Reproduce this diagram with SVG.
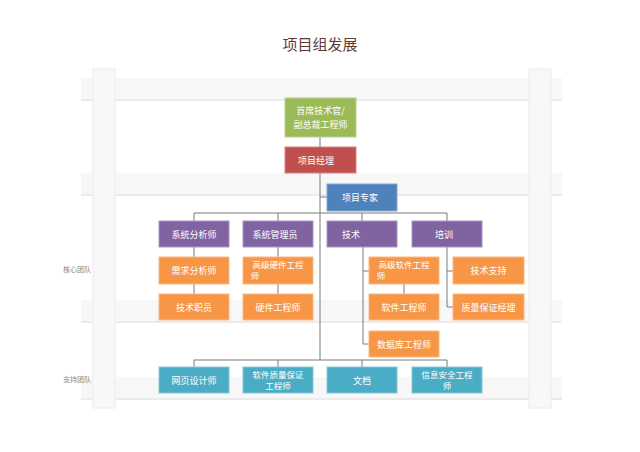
<svg xmlns="http://www.w3.org/2000/svg" width="640" height="452" viewBox="0 0 640 452">
<style>
.bar{fill:#f7f7f7}
.sh{fill:#ebebeb}
.post{fill:#f8f8f8;stroke:#ececec;stroke-width:1}
.n rect{stroke-width:1}
.n text{font-family:"Noto Sans CJK SC","Noto Sans",sans-serif;font-size:9px;fill:#ffffff;text-anchor:middle}
.n text.s{font-size:8.5px}
.g rect{fill:#9bbb59;stroke:#b8d08a}
.r rect{fill:#c0504d;stroke:#d68482}
.b rect{fill:#4f81bd;stroke:#86a8d3}
.p rect{fill:#8064a2;stroke:#a993c2}
.o rect{fill:#f79646;stroke:#fab882}
.t rect{fill:#4bacc6;stroke:#83c7d9}
.lab{font-family:"Noto Sans CJK SC",sans-serif;font-size:7px;fill:#8a8a8a}
#connectors path{fill:none;stroke:#7a7a7a;stroke-width:1}
</style>
<rect width="640" height="452" fill="#ffffff"/>
<g id="background">
<rect class="sh" x="81" y="80" width="481" height="21"/>
<rect class="bar" x="81" y="78" width="481" height="21"/>
<rect class="sh" x="81" y="175" width="481" height="21"/>
<rect class="bar" x="81" y="173" width="481" height="21"/>
<rect class="sh" x="81" y="302" width="481" height="21"/>
<rect class="bar" x="81" y="300" width="481" height="21"/>
<rect class="sh" x="81" y="379" width="481" height="21"/>
<rect class="bar" x="81" y="377" width="481" height="21"/>
<rect class="post" x="93" y="69" width="22" height="339"/>
<rect class="post" x="529" y="69" width="22" height="339"/>
</g>
<text x="320" y="50" font-family="Noto Sans CJK SC,sans-serif" font-size="15" fill="#5e3c36" text-anchor="middle">项目组发展</text>
<text class="lab" x="63" y="272">核心团队</text>
<text class="lab" x="63" y="382">支持团队</text>
<g id="connectors">
<path d="M320 137V147M320 173V360"/>
<path d="M320 197H327"/>
<path d="M194 221V213H447V221M278 213V221M362 213V221"/>
<path d="M194 247V257M194 284V294"/>
<path d="M278 247V257M278 284V294"/>
<path d="M363 247V344H369M363 271H369"/>
<path d="M404 284V294"/>
<path d="M447 247V307H453M447 271H453"/>
<path d="M194 367V360H447V367M278 360V367M362 360V367"/>
</g>
<g id="cto" class="n g"><rect x="285" y="98" width="71" height="39"/><text x="320.5" y="114">首席技术官/</text><text x="320.5" y="127.5">副总裁工程师</text></g>
<g id="pm" class="n r"><rect x="285" y="147" width="71" height="26"/><text x="316" y="163.5">项目经理</text></g>
<g id="expert" class="n b"><rect x="327" y="184" width="70" height="27"/><text x="360" y="200.5">项目专家</text></g>
<g id="sa" class="n p"><rect x="159" y="221" width="70" height="26"/><text x="194" y="237.5">系统分析师</text></g>
<g id="sysadmin" class="n p"><rect x="243" y="221" width="70" height="26"/><text x="275" y="237.5">系统管理员</text></g>
<g id="tech" class="n p"><rect x="327" y="221" width="70" height="26"/><text x="351" y="237.5">技术</text></g>
<g id="train" class="n p"><rect x="412" y="221" width="70" height="26"/><text x="444" y="237.5">培训</text></g>
<g id="req" class="n o"><rect x="159" y="257" width="70" height="27"/><text x="194" y="273.5">需求分析师</text></g>
<g id="shw" class="n o"><rect x="243" y="257" width="70" height="27"/><text class="s" x="278" y="267.5">高级硬件工程</text><text class="s" x="255" y="279">师</text></g>
<g id="ssw" class="n o"><rect x="369" y="257" width="70" height="27"/><text class="s" x="404" y="267.5">高级软件工程</text><text class="s" x="381" y="279">师</text></g>
<g id="support" class="n o"><rect x="453" y="257" width="71" height="27"/><text x="488.5" y="273.5">技术支持</text></g>
<g id="staff" class="n o"><rect x="159" y="294" width="70" height="26"/><text x="194" y="310.5">技术职员</text></g>
<g id="hw" class="n o"><rect x="243" y="294" width="70" height="26"/><text x="278" y="310.5">硬件工程师</text></g>
<g id="sw" class="n o"><rect x="369" y="294" width="70" height="26"/><text x="404" y="310.5">软件工程师</text></g>
<g id="qam" class="n o"><rect x="453" y="294" width="71" height="26"/><text x="488.5" y="310.5">质量保证经理</text></g>
<g id="db" class="n o"><rect x="369" y="331" width="70" height="26"/><text x="404" y="347.5">数据库工程师</text></g>
<g id="web" class="n t"><rect x="159" y="367" width="70" height="26"/><text x="194" y="383.5">网页设计师</text></g>
<g id="sqa" class="n t"><rect x="243" y="367" width="70" height="26"/><text class="s" x="278" y="377.5">软件质量保证</text><text class="s" x="278" y="389">工程师</text></g>
<g id="doc" class="n t"><rect x="327" y="367" width="70" height="26"/><text x="362" y="383.5">文档</text></g>
<g id="sec" class="n t"><rect x="412" y="367" width="70" height="26"/><text class="s" x="447" y="377.5">信息安全工程</text><text class="s" x="447" y="389">师</text></g>
</svg>
